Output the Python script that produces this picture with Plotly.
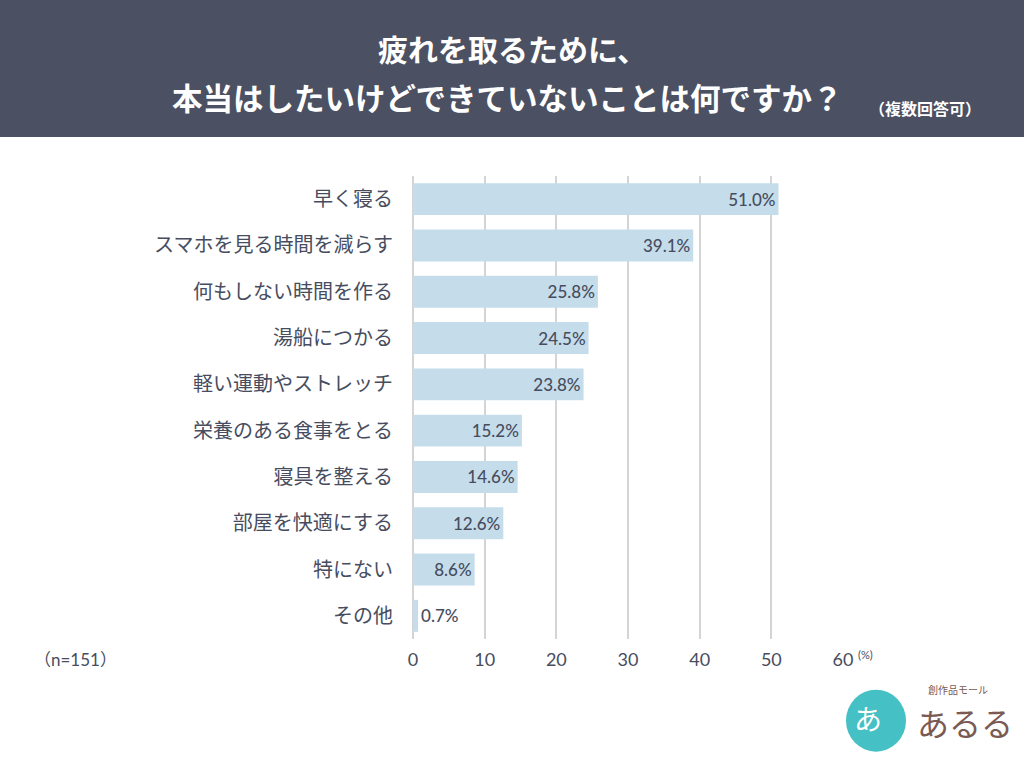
import plotly.graph_objects as go

categories = ["早く寝る", "スマホを見る時間を減らす", "何もしない時間を作る", "湯船につかる",
              "軽い運動やストレッチ", "栄養のある食事をとる", "寝具を整える", "部屋を快適にする",
              "特にない", "その他"]
values = [51.0, 39.1, 25.8, 24.5, 23.8, 15.2, 14.6, 12.6, 8.6, 0.7]
x_ticks = [0, 10, 20, 30, 40, 50, 60]

W, H = 1024, 768
L, R = 413, 843
T, B = 176, 639.3

def px(x):
    return (x - L) / (R - L)

def py(y):
    return (B - y) / (B - T)

TXT = "#474d5e"
JP = "Noto Sans CJK JP"
NUM = "Lato, Noto Sans CJK JP"

positions = ["inside" if v >= 5 else "outside" for v in values]

fig = go.Figure(go.Bar(
    x=values, y=categories, orientation="h",
    marker=dict(color="#c5ddeb", line=dict(width=0)),
    width=0.69,
    text=[f"{v:.1f}%" for v in values],
    textposition=positions,
    insidetextanchor="end",
    textfont=dict(family=NUM, size=17, color=TXT, weight=500),
    cliponaxis=False,
))

fig.update_layout(
    width=W, height=H,
    margin=dict(l=L, r=W - R, t=T, b=H - B),
    plot_bgcolor="white", paper_bgcolor="white",
    showlegend=False,
    uniformtext=dict(minsize=17, mode="show"),
    xaxis=dict(range=[0, 60], tickvals=x_ticks, ticktext=[str(t) for t in x_ticks],
               showgrid=True, gridcolor="#d4d4d4", gridwidth=1.5,
               zeroline=True, zerolinecolor="#d4d4d4", zerolinewidth=1.5,
               showline=False, ticks="outside", ticklen=4, tickcolor="rgba(0,0,0,0)",
               tickfont=dict(family=NUM, size=18, color=TXT), fixedrange=True),
    yaxis=dict(categoryorder="array", categoryarray=categories, autorange="reversed",
               showgrid=False, zeroline=False, showline=False,
               ticks="outside", ticklen=15, tickcolor="rgba(0,0,0,0)",
               tickfont=dict(family=JP, size=20, color=TXT), fixedrange=True),
    font=dict(family=JP, color=TXT),
)

shapes = [
    dict(type="rect", xref="paper", yref="paper", x0=px(0), x1=px(W), y0=py(137), y1=py(0),
         fillcolor="#4b5162", line=dict(width=0), layer="below"),
    dict(type="circle", xref="paper", yref="paper", x0=px(846), x1=px(906), y0=py(752), y1=py(690),
         fillcolor="#45c0c4", line=dict(width=0)),
]
fig.update_layout(shapes=shapes)

ann = [
    dict(text="<b>疲れを取るために、</b>", x=px(512), y=py(48), font=dict(size=30, color="white", family=JP)),
    dict(text="<b>本当はしたいけどできていないことは何ですか？</b>", x=px(507), y=py(97),
         font=dict(size=30.5, color="white", family=JP)),
    dict(text="<b>（複数回答可）</b>", x=px(925), y=py(108), font=dict(size=16, color="white", family=JP)),
    dict(text="（n=151）", x=px(75), y=py(660), font=dict(size=17, color=TXT, family=NUM)),
    dict(text="(%)", x=px(865), y=py(655), font=dict(size=11, color=TXT, family=NUM)),
    dict(text="あ", x=px(868), y=py(718), font=dict(size=28, color="white", family=JP)),
    dict(text="創作品モール", x=px(958), y=py(690), font=dict(size=10, color="#7a5a52", family=JP)),
    dict(text="あるる", x=px(965), y=py(722), font=dict(size=32, color="#7a5a52", family=JP)),
]
for a in ann:
    a.update(xref="paper", yref="paper", showarrow=False, xanchor="center", yanchor="middle")
fig.update_layout(annotations=ann)

fig.write_html("out.html")
